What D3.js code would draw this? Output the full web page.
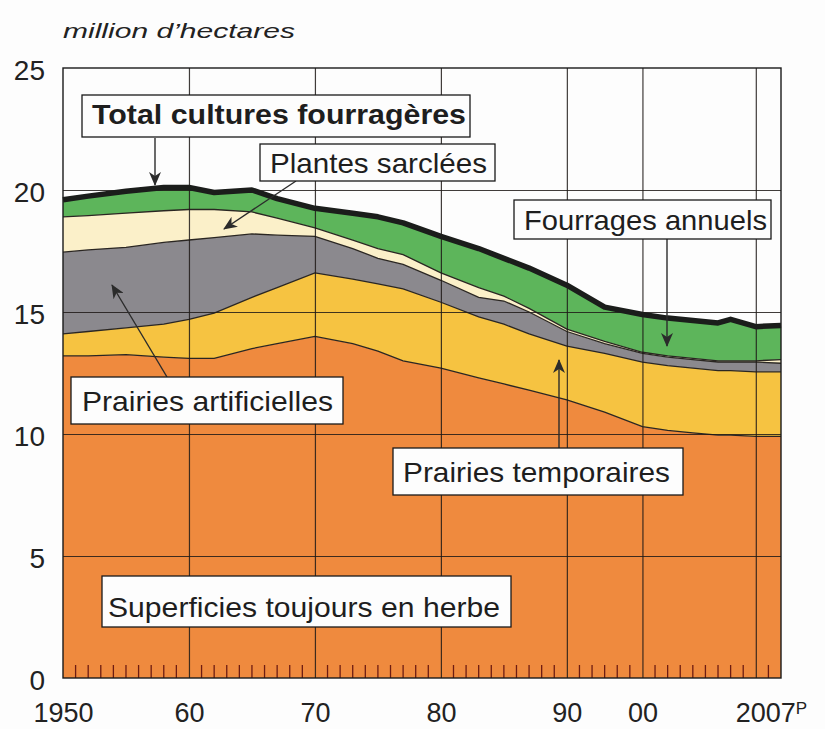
<!DOCTYPE html>
<html>
<head>
<meta charset="utf-8">
<script src="https://cdn.jsdelivr.net/npm/d3@7"></script>
<style>
  body { margin: 0; background: #fdfdfd; }
  svg { display: block; font-family: "Liberation Sans", Arial, sans-serif; }
</style>
</head>
<body>
<script>
'use strict';

// data (million hectares)
var years = [1950, 1952, 1955, 1958, 1960, 1962, 1965, 1967, 1970, 1973, 1975, 1977, 1980,
             1983, 1985, 1987, 1990, 1993, 1996, 1998, 2000, 2002, 2003, 2005, 2007];
var sth = [13.2, 13.2, 13.25, 13.15, 13.1, 13.1, 13.5, 13.7, 14.0, 13.7, 13.4, 13.0, 12.7,
           12.3, 12.05, 11.8, 11.4, 10.9, 10.3, 10.15, 10.05, 9.95, 9.95, 9.9, 9.9];
var prTemp = [0.9, 1.0, 1.1, 1.35, 1.6, 1.85, 2.1, 2.3, 2.6, 2.65, 2.75, 2.95, 2.7,
              2.5, 2.45, 2.3, 2.2, 2.4, 2.65, 2.65, 2.65, 2.65, 2.65, 2.65, 2.65];
var prArt = [3.35, 3.35, 3.3, 3.35, 3.25, 3.1, 2.6, 2.15, 1.5, 1.25, 1.05, 1.0, 0.9,
             0.8, 0.95, 0.9, 0.6, 0.4, 0.35, 0.35, 0.35, 0.35, 0.35, 0.4, 0.35];
var sarclees = [1.45, 1.4, 1.4, 1.3, 1.25, 1.15, 0.9, 0.7, 0.35, 0.35, 0.4, 0.4, 0.3,
                0.4, 0.2, 0.15, 0.1, 0.1, 0.05, 0.05, 0.05, 0.05, 0.05, 0.05, 0.15];
var fourrAnn = [0.7, 0.8, 0.9, 0.95, 0.9, 0.7, 0.9, 0.8, 0.8, 1.1, 1.3, 1.3, 1.5,
                1.6, 1.55, 1.65, 1.8, 1.4, 1.55, 1.55, 1.55, 1.55, 1.7, 1.4, 1.4];

var yTicks = [0, 5, 10, 15, 20, 25];
var gridYears = [1960, 1970, 1980, 1990, 1996, 2005];
var xTickYears = [1950, 1960, 1970, 1980, 1990, 1996, 2007];
var xTickLabels = ["1950", "60", "70", "80", "90", "00", "2007"];

var keys = ["sth", "prTemp", "prArt", "sarclees", "fourrAnn"];
var colors = { sth: "#ef8a3e", prTemp: "#f6c341", prArt: "#8b898e", sarclees: "#fbf0c9", fourrAnn: "#5db55b" };

var rows = years.map(function(yr, i) {
  return { year: yr, sth: sth[i], prTemp: prTemp[i], prArt: prArt[i], sarclees: sarclees[i], fourrAnn: fourrAnn[i] };
});

var margin = {top: 68, left: 63},
    width = 718,
    height = 610;

var svg = d3.select("body").append("svg")
    .attr("width", 825)
    .attr("height", 729);

var g = svg.append("g").attr("transform", "translate(" + margin.left + "," + margin.top + ")");

var x = d3.scaleLinear().domain([1950, 2007]).range([0, width]);
var y = d3.scaleLinear().domain([0, 25]).range([height, 0]);

var series = d3.stack().keys(keys)(rows);

var area = d3.area()
    .x(function(d) { return x(d.data.year); })
    .y0(function(d) { return y(d[0]); })
    .y1(function(d) { return y(d[1]); });

var topLine = d3.line()
    .x(function(d) { return x(d.data.year); })
    .y(function(d) { return y(d[1]); });

g.selectAll(".layer")
  .data(series)
  .enter().append("path")
    .attr("class", "layer")
    .attr("d", area)
    .attr("fill", function(d) { return colors[d.key]; });

// thin outline on each layer boundary
g.selectAll(".edge")
  .data(series.slice(0, 4))
  .enter().append("path")
    .attr("class", "edge")
    .attr("d", topLine)
    .attr("fill", "none")
    .attr("stroke", "#2a2622")
    .attr("stroke-width", 1.3);

// grid
g.append("g")
  .call(d3.axisLeft(y).tickValues(yTicks.slice(1, 5)).tickSize(-width).tickFormat(""))
  .call(function(s) { s.select(".domain").remove(); })
  .selectAll("line").attr("stroke", "#1e1a18").attr("stroke-width", 1.2).attr("opacity", 0.85);

g.append("g")
  .attr("transform", "translate(0," + height + ")")
  .call(d3.axisBottom(x).tickValues(gridYears).tickSize(height).tickFormat(""))
  .call(function(s) { s.select(".domain").remove(); })
  .selectAll("line").attr("y2", -height).attr("stroke", "#1e1a18").attr("stroke-width", 1.2).attr("opacity", 0.85);

// yearly minor ticks
var minor = d3.range(1951, 2007).filter(function(yr) { return gridYears.indexOf(yr) < 0; });
g.selectAll(".minor")
  .data(minor)
  .enter().append("line")
    .attr("x1", function(d) { return x(d); })
    .attr("x2", function(d) { return x(d); })
    .attr("y1", height)
    .attr("y2", height - 13)
    .attr("stroke", "#6e1c12")
    .attr("stroke-width", 1.3);

// frame
g.append("rect")
  .attr("width", width).attr("height", height)
  .attr("fill", "none").attr("stroke", "#1a1a1a").attr("stroke-width", 1.4);

// total line
g.append("path")
  .datum(series[4])
  .attr("d", topLine)
  .attr("fill", "none")
  .attr("stroke", "#1b1d1b")
  .attr("stroke-width", 5.5)
  .attr("stroke-linejoin", "round");

// axes labels
var yAxis = g.append("g")
  .call(d3.axisLeft(y).tickValues(yTicks).tickSize(0).tickPadding(18))
  .call(function(s) { s.select(".domain").remove(); });
yAxis.selectAll("text").attr("font-size", 28).attr("fill", "#222").attr("font-family", "Liberation Sans, Arial, sans-serif").attr("dy", "0.42em");

var xAxis = g.append("g")
  .attr("transform", "translate(0," + height + ")")
  .call(d3.axisBottom(x).tickValues(xTickYears).tickSize(0).tickPadding(25)
        .tickFormat(function(d, i) { return xTickLabels[i]; }))
  .call(function(s) { s.select(".domain").remove(); });
xAxis.selectAll("text").attr("font-size", 27).attr("fill", "#222").attr("font-family", "Liberation Sans, Arial, sans-serif");
xAxis.selectAll(".tick").filter(function(d) { return d === 2007; }).select("text")
  .attr("dx", -10)
  .append("tspan").attr("font-size", 17).attr("dy", "-0.5em").text("P");

// unit
svg.append("text")
  .attr("x", 63).attr("y", 38)
  .attr("font-size", 21).attr("font-style", "italic").attr("fill", "#222")
  .attr("textLength", 232).attr("lengthAdjust", "spacingAndGlyphs")
  .text("million d\u2019hectares");

// annotations
var defs = svg.append("defs");
defs.append("marker")
  .attr("id", "head")
  .attr("viewBox", "0 0 14 12")
  .attr("refX", 13).attr("refY", 6)
  .attr("markerWidth", 14).attr("markerHeight", 12)
  .attr("markerUnits", "userSpaceOnUse")
  .attr("orient", "auto")
  .append("path").attr("d", "M0,0 L14,6 L0,12 L4,6 Z").attr("fill", "#2b2b2b");

var arrows = [
  [155, 138, 155, 185],
  [296, 181, 224, 229],
  [667, 239, 667, 346],
  [167, 377, 112, 285],
  [559, 448, 559, 360]
];
svg.selectAll(".arrow")
  .data(arrows)
  .enter().append("line")
    .attr("x1", function(d) { return d[0]; })
    .attr("y1", function(d) { return d[1]; })
    .attr("x2", function(d) { return d[2]; })
    .attr("y2", function(d) { return d[3]; })
    .attr("stroke", "#2b2b2b").attr("stroke-width", 1.4)
    .attr("marker-end", "url(#head)");

var notes = [
  {text: "Total cultures fourragères", bold: true, box: [82, 95, 470, 137], tx: 92, ty: 124, tw: 374},
  {text: "Plantes sarclées", box: [260, 144, 495, 181], tx: 270, ty: 173, tw: 217},
  {text: "Fourrages annuels", box: [514, 200, 771, 239], tx: 524, ty: 230, tw: 243},
  {text: "Prairies artificielles", box: [71, 377, 343, 424], tx: 82, ty: 411, tw: 251},
  {text: "Prairies temporaires", box: [393, 448, 683, 495], tx: 403, ty: 482, tw: 267},
  {text: "Superficies toujours en herbe", box: [102, 576, 511, 627], tx: 108, ty: 617, tw: 392}
];
var note = svg.selectAll(".note").data(notes).enter().append("g").attr("class", "note");
note.append("rect")
  .attr("x", function(d) { return d.box[0]; })
  .attr("y", function(d) { return d.box[1]; })
  .attr("width", function(d) { return d.box[2] - d.box[0]; })
  .attr("height", function(d) { return d.box[3] - d.box[1]; })
  .attr("fill", "#fdfdfd").attr("stroke", "#1a1a1a").attr("stroke-width", 1.3);
note.append("text")
  .attr("x", function(d) { return d.tx; })
  .attr("y", function(d) { return d.ty; })
  .attr("font-size", 28)
  .attr("font-weight", function(d) { return d.bold ? "bold" : "normal"; })
  .attr("fill", "#1e1e1e")
  .attr("textLength", function(d) { return d.tw; })
  .attr("lengthAdjust", "spacingAndGlyphs")
  .text(function(d) { return d.text; });
</script>
</body>
</html>
